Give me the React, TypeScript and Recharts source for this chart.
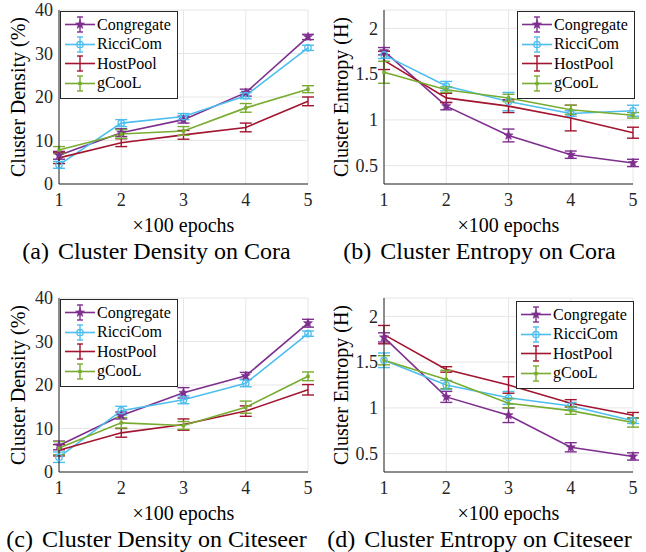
import React from "react"
import { ComposedChart, Line, ErrorBar, XAxis, YAxis, CartesianGrid, Legend, Label } from "recharts"

const epochs = [1, 2, 3, 4, 5]
const methodNames = ["Congregate", "RicciCom", "HostPool", "gCooL"]
const methodKeys = ["cong", "ricci", "host", "gcool"]
const methodColors = ["#7E2F8E", "#4DBEEE", "#A2142F", "#77AC30"]
const methodMarkers = ["star", "circle", "none", "square"]

const densityTicks = [0, 10, 20, 30, 40]
const entropyTicks = [0.5, 1, 1.5, 2]

// (a) cluster density on Cora
const coraDensity = [
  [6.6, 11.8, 14.8, 21.0, 33.8],
  [4.4, 14.0, 15.5, 20.3, 31.3],
  [6.0, 9.5, 11.3, 13.0, 19.0],
  [7.8, 11.5, 12.2, 17.5, 21.8],
]
const coraDensityErr = [
  [0.9, 0.9, 0.8, 0.8, 0.6],
  [0.8, 0.8, 0.7, 0.7, 0.6],
  [1.3, 0.9, 1.0, 1.0, 1.0],
  [0.8, 1.0, 1.0, 1.0, 0.8],
]

// (b) cluster entropy on Cora
const coraEntropy = [
  [1.75, 1.15, 0.83, 0.62, 0.53],
  [1.71, 1.37, 1.2, 1.07, 1.1],
  [1.65, 1.24, 1.15, 1.02, 0.86],
  [1.52, 1.33, 1.24, 1.11, 1.05],
]
const coraEntropyErr = [
  [0.04, 0.04, 0.07, 0.04, 0.04],
  [0.04, 0.05, 0.1, 0.03, 0.06],
  [0.1, 0.05, 0.07, 0.14, 0.06],
  [0.12, 0.03, 0.04, 0.05, 0.03],
]

// (c) cluster density on Citeseer
const citeseerDensity = [
  [6.1, 13.0, 18.2, 22.1, 34.2],
  [3.4, 14.1, 16.6, 20.4, 31.8],
  [5.0, 9.0, 10.9, 14.0, 18.9],
  [5.5, 11.3, 10.7, 14.9, 22.0],
]
const citeseerDensityErr = [
  [1.0, 0.8, 1.2, 0.8, 0.9],
  [1.2, 1.0, 0.9, 0.8, 0.6],
  [1.3, 1.0, 1.3, 1.2, 1.2],
  [1.5, 1.2, 0.9, 1.4, 1.0],
]

// (d) cluster entropy on Citeseer
const citeseerEntropy = [
  [1.77, 1.12, 0.92, 0.57, 0.47],
  [1.52, 1.25, 1.11, 1.02, 0.86],
  [1.8, 1.42, 1.25, 1.05, 0.92],
  [1.52, 1.31, 1.05, 0.97, 0.84],
]
const citeseerEntropyErr = [
  [0.05, 0.06, 0.08, 0.05, 0.04],
  [0.08, 0.05, 0.07, 0.04, 0.03],
  [0.1, 0.03, 0.09, 0.04, 0.03],
  [0.05, 0.1, 0.05, 0.04, 0.05],
]

const serif = "'Liberation Serif', 'Times New Roman', serif"
const ink = "#262626"

function buildRows(values: number[][], errors: number[][]) {
  return epochs.map((e, i) => {
    const row: any = { epoch: e }
    methodKeys.forEach((k, j) => {
      row[k] = values[j][i]
      row[k + "Err"] = errors[j][i]
    })
    return row
  })
}

function Marker({ kind, cx, cy, color }: any) {
  if (kind === "star") {
    const pts: string[] = []
    for (let i = 0; i < 10; i++) {
      const r = i % 2 === 0 ? 4.8 : 2
      const a = -Math.PI / 2 + (i * Math.PI) / 5
      pts.push(`${cx + r * Math.cos(a)},${cy + r * Math.sin(a)}`)
    }
    return <polygon points={pts.join(" ")} fill={color} stroke={color} strokeWidth={0.6} />
  }
  if (kind === "circle") return <circle cx={cx} cy={cy} r={3.2} fill="none" stroke={color} strokeWidth={1.3} />
  if (kind === "square") return <rect x={cx - 1.7} y={cy - 1.7} width={3.4} height={3.4} fill={color} />
  return <g />
}

function LegendBox({ payload }: any) {
  // keep the plotting order, not the alphabetical one
  const items = [...(payload || [])].sort((a: any, b: any) => methodKeys.indexOf(a.dataKey) - methodKeys.indexOf(b.dataKey))
  return (
    <div style={{ border: `1px solid ${ink}`, background: "#fff", padding: "3px 6px 5px 4px", fontFamily: serif, fontSize: 16, color: "#000" }}>
      {items.map((item: any) => {
        const j = methodKeys.indexOf(item.dataKey)
        const c = methodColors[j]
        return (
          <div key={item.dataKey} style={{ display: "flex", alignItems: "center", height: 19.5 }}>
            <svg width={30} height={19} style={{ overflow: "visible" }}>
              <line x1={0} x2={30} y1={9.5} y2={9.5} stroke={c} strokeWidth={1.6} />
              <line x1={15} x2={15} y1={2} y2={17} stroke={c} strokeWidth={1.4} />
              <line x1={12} x2={18} y1={2} y2={2} stroke={c} strokeWidth={1.4} />
              <line x1={12} x2={18} y1={17} y2={17} stroke={c} strokeWidth={1.4} />
              <Marker kind={methodMarkers[j]} cx={15} cy={9.5} color={c} />
            </svg>
            <span style={{ marginLeft: 2, whiteSpace: "nowrap" }}>{methodNames[j]}</span>
          </div>
        )
      })}
    </div>
  )
}

function Panel({ x, y, tag, caption, yLabel, values, errors, ticks, domain, axisWidth, right, legendLeft, legendTop }: any) {
  const rows = buildRows(values, errors)
  const tickStyle = { fill: ink, fontSize: 18, fontFamily: serif }
  return (
    <div style={{ position: "absolute", left: x, top: y, width: 323, height: 264 }}>
      <ComposedChart width={323} height={264} data={rows} margin={{ top: 10, right, bottom: 50, left: 0 }}>
        <CartesianGrid stroke="#e6e6e6" strokeWidth={1} />
        <XAxis dataKey="epoch" type="number" domain={[1, 5]} ticks={epochs} height={30} tickLine={false}
          tickSize={0} tickMargin={9} tick={tickStyle} stroke={ink} axisLine={{ stroke: ink }}>
          <Label content={(p: any) => (
            <text x={p.viewBox.x + p.viewBox.width / 2} y={p.viewBox.y + 41} textAnchor="middle" dominantBaseline="central"
              fontFamily={serif} fontSize={20} fill="#000">×100 epochs</text>
          )} />
        </XAxis>
        <XAxis xAxisId="top" orientation="top" type="number" domain={[1, 5]} height={0} tick={false} tickLine={false} axisLine={{ stroke: ink }} />
        <YAxis type="number" domain={domain} ticks={ticks} width={axisWidth} tickLine={false} tickSize={0} tickMargin={6}
          tick={tickStyle} axisLine={{ stroke: ink }} interval={0}>
          <Label content={(p: any) => {
            const cx = p.viewBox.x + 18
            const cy = p.viewBox.y + p.viewBox.height / 2
            return (
              <text x={cx} y={cy} transform={`rotate(-90, ${cx}, ${cy})`} textAnchor="middle" dominantBaseline="central"
                fontFamily={serif} fontSize={20} fill="#000">{yLabel}</text>
            )
          }} />
        </YAxis>
        <YAxis yAxisId="right" orientation="right" type="number" domain={[0, 1]} width={0} tick={false} tickLine={false} axisLine={{ stroke: ink }} />
        {methodKeys.map((k, j) => (
          <Line key={k} dataKey={k} name={methodNames[j]} stroke={methodColors[j]} strokeWidth={1.6} isAnimationActive={false}
            activeDot={false}
            dot={(d: any) => <Marker key={`${k}-${d.index}`} kind={methodMarkers[j]} cx={d.cx} cy={d.cy} color={methodColors[j]} />}>
            <ErrorBar dataKey={k + "Err"} width={6} stroke={methodColors[j]} strokeWidth={1.4} direction="y" isAnimationActive={false} />
          </Line>
        ))}
        <Legend layout="vertical" align="center" verticalAlign="middle" content={<LegendBox />}
          wrapperStyle={{ left: legendLeft, top: legendTop, width: "auto", height: "auto" }} />
      </ComposedChart>
      <div style={{ position: "absolute", left: 0, width: 313, top: 239, textAlign: "center", fontFamily: serif, fontSize: 24, lineHeight: "24px", whiteSpace: "nowrap", color: "#000" }}>
        <span>({tag})</span>
        <span style={{ marginLeft: 9 }}>{caption}</span>
      </div>
    </div>
  )
}

export default function App() {
  return (
    <div style={{ position: "fixed", left: 0, top: 0, width: 646, height: 552, background: "#fff" }}>
      <Panel x={0} y={0} tag="a" caption="Cluster Density on Cora" yLabel="Cluster Density (%)"
        values={coraDensity} errors={coraDensityErr} ticks={densityTicks} domain={[0, 40]}
        axisWidth={59} right={15} legendLeft={60} legendTop={11} />
      <Panel x={323} y={0} tag="b" caption="Cluster Entropy on Cora" yLabel="Cluster Entropy (H)"
        values={coraEntropy} errors={coraEntropyErr} ticks={entropyTicks} domain={[0.3, 2.2]}
        axisWidth={61} right={13} legendLeft={194} legendTop={11} />
      <Panel x={0} y={288} tag="c" caption="Cluster Density on Citeseer" yLabel="Cluster Density (%)"
        values={citeseerDensity} errors={citeseerDensityErr} ticks={densityTicks} domain={[0, 40]}
        axisWidth={59} right={15} legendLeft={60} legendTop={11} />
      <Panel x={323} y={288} tag="d" caption="Cluster Entropy on Citeseer" yLabel="Cluster Entropy (H)"
        values={citeseerEntropy} errors={citeseerEntropyErr} ticks={entropyTicks} domain={[0.3, 2.2]}
        axisWidth={61} right={13} legendLeft={193} legendTop={13} />
    </div>
  )
}
